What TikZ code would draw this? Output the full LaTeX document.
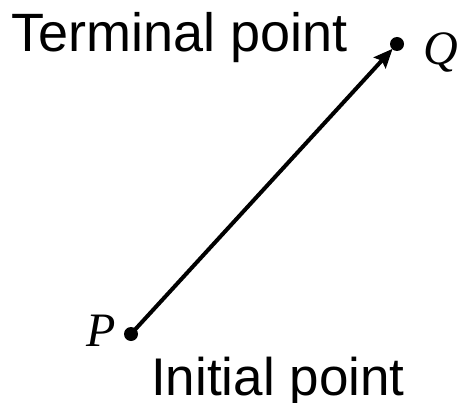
\documentclass[tikz,border=0pt]{standalone}
\usepackage{fontspec}
\setmainfont{Liberation Serif}
\setsansfont{Liberation Sans}
\usetikzlibrary{arrows.meta}
\begin{document}
\begin{tikzpicture}[x=1pt,y=1pt,
  dotnode/.style={circle,fill=black,inner sep=0pt,minimum size=14pt},
  lbl/.style={font=\sffamily\fontsize{54}{60}\selectfont,inner sep=0pt,anchor=base west},
  ptlbl/.style={font=\itshape\fontsize{48}{54}\selectfont,inner sep=0pt,anchor=base west},
  vec/.style={line width=4pt,-{Stealth[length=19pt,width=16pt,inset=3pt]},shorten >=6.5pt}]
\useasboundingbox (0,0) rectangle (462,402);
\node[dotnode] (p) at (131,68) {};
\node[dotnode] (q) at (397,358) {};
\draw[vec] (p.center) -- (q.center);
\node[lbl] (term) at (11,350) {Terminal point};
\node[lbl,font=\sffamily\fontsize{53}{60}\selectfont] (init) at (151,6.5) {Initial point};
\node[ptlbl] (qlbl) at (423,337) {Q};
\node[ptlbl] (plbl) at (86,56) {P};
\end{tikzpicture}
\end{document}
